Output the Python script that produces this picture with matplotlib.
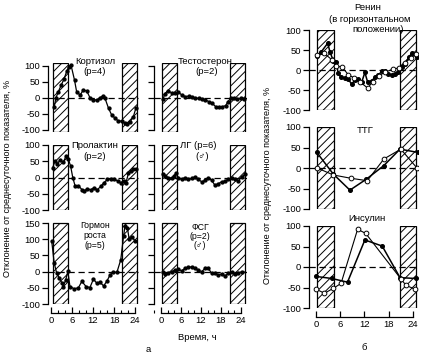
import matplotlib
matplotlib.use("Agg")
import matplotlib.pyplot as plt
from matplotlib.ticker import MultipleLocator

plt.rcParams['font.family'] = ['Liberation Sans', 'DejaVu Sans']
plt.rcParams['hatch.linewidth'] = 0.7

# ---------------- data (hours, % deviation) ----------------
cort_h = [0.9, 1.4, 2.1, 2.9, 3.7, 4.5, 5.1, 5.7, 6.7, 7.3, 8.3, 9.2, 10.2, 11.1, 12.1, 13.1, 14.0, 14.7,
          15.4, 16.4, 17.3, 18.3, 19.2, 20.2, 21.0, 21.6, 22.6, 23.5, 24.2]
cort_v = [-29, 0, 20, 40, 59, 84, 98, 103, 56, 20, 9, 25, 22, 1, -6, -6, 1, 6,
          -1, -32, -53, -63, -72, -72, -79, -82, -74, -58, -32]

prl_h = [0.5, 1.1, 1.8, 2.6, 3.5, 4.3, 4.9, 5.6, 6.2, 6.9, 7.8, 8.8, 9.4, 10.4, 11.3, 12.3, 13.2, 14.2,
         15.1, 16.1, 17.1, 18.0, 19.0, 19.9, 20.7, 21.4, 22.1, 22.9, 23.5, 24.3]
prl_v = [30, 50, 43, 53, 47, 66, 58, 35, 0, -27, -25, -37, -42, -34, -38, -31, -38, -27,
         -16, -6, -4, -4, -11, -16, -11, -16, 14, 20, 25, 27]

gh_h = [0.2, 0.9, 1.6, 2.4, 3.1, 3.5, 4.2, 4.8, 5.4, 6.6, 7.8, 8.8, 10.0, 11.1, 12.1, 13.0, 14.0, 15.0,
        15.9, 16.9, 17.8, 18.8, 19.9, 20.7, 21.1, 21.8, 22.3, 23.0, 24.0]
gh_v = [95, 27, -4, -20, -35, -46, -25, 1, -46, -53, -50, -30, -46, -49, -23, -35, -33, -44,
        -30, -9, -2, -2, 37, 110, 141, 135, 100, 108, 95]

test_h = [0.5, 1.2, 2.2, 3.2, 4.2, 5.2, 6.3, 7.3, 8.3, 9.3, 10.3, 11.3, 12.3, 13.3, 14.3, 15.4, 16.4, 17.4,
          18.4, 19.4, 20.1, 20.9, 21.9, 22.9, 23.9, 24.9]
test_v = [-4, 12, 22, 16, 15, 18, 9, 4, 6, 4, -1, -1, -4, -6, -11, -17, -27, -27,
          -27, -24, -11, -1, 1, -4, -1, -4]

lh_h = [0.5, 1.2, 2.2, 3.2, 3.9, 4.5, 5.2, 6.2, 7.2, 8.2, 9.2, 10.2, 11.2, 12.2, 13.2, 14.2, 15.2, 16.2,
        17.2, 18.2, 19.2, 20.2, 21.2, 22.2, 23.2, 24.2, 25.2]
lh_v = [12, 4, 0, -2, 4, 14, 0, -6, 0, -6, -3, 2, -6, -13, -9, 0, -9, -24,
        -19, -13, -11, -6, -3, -6, -11, 2, 10]

fsh_h = [0.5, 1.2, 2.2, 3.2, 4.2, 5.2, 6.2, 7.2, 8.2, 9.2, 10.2, 11.2, 12.2, 13.2, 14.2, 15.2, 16.2, 17.2,
         18.2, 19.2, 20.2, 21.2, 22.2, 23.2, 24.2]
fsh_v = [0, -7, -5, 0, 5, 7, 3, 10, 13, 15, 10, 5, 0, 10, 10, -5, -5, -10,
         -7, -13, -5, 0, -7, -5, 0]

ren_f_h = [0.2, 1.2, 2.9, 3.5, 4.3, 5.0, 5.5, 6.2, 7.2, 8.0, 8.8, 9.7, 10.5, 11.3, 12.1, 12.8, 13.8, 14.6,
           15.4, 16.4, 17.1, 17.9, 18.7, 19.6, 20.4, 21.2, 22.0, 23.0, 23.7, 24.9]
ren_f_v = [36, 44, 67, 44, 23, 19, -8, -18, -21, -23, -35, -25, -23, -31, -6, -31, -27, -18,
           -13, -2, -2, -10, -13, -10, -6, 7, 15, 32, 42, 32]
ren_o_h = [0.2, 2.0, 4.0, 5.0, 6.5, 8.0, 9.5, 11.0, 12.8, 14.0, 15.5, 17.0, 19.0, 20.5, 22.0, 23.5, 24.8]
ren_o_v = [38, 42, 25, 10, 7, -12, -20, -31, -45, -30, -15, -6, 2, 5, 18, 30, 40]

tsh_f_h = [0.2, 4.3, 8.4, 12.5, 16.8, 20.8, 25.2]
tsh_f_v = [38, -15, -54, -27, 6, 46, 38]
tsh_o_h = [0.3, 4.3, 8.6, 12.7, 16.8, 21.0, 25.0]
tsh_o_v = [0, -17, -25, -31, 22, 46, 0]

ins_f_h = [0.0, 3.9, 7.8, 12.1, 16.4, 20.8, 24.7]
ins_f_v = [-23, -28, -37, 66, 51, -26, -28]
ins_o_h = [0.0, 2.1, 4.3, 6.2, 10.3, 12.3, 21.1, 22.3, 24.5]
ins_o_v = [-54, -64, -52, -40, 92, 82, -30, -45, -54]

W, H = 425, 355
fig = plt.figure(figsize=(W / 100, H / 100), dpi=100)

TICK_FS = 6.8


def add_ax(x0, x1, y0, y1):
    return fig.add_axes([x0 / W, 1 - y1 / H, (x1 - x0) / W, (y1 - y0) / H])


def style(ax, xlim, ylim, yticks, bands, labels=True, bottom=False, minor=True):
    ax.set_xlim(*xlim)
    ax.set_ylim(*ylim)
    for s in ['top', 'right']:
        ax.spines[s].set_visible(False)
    ax.spines['left'].set_bounds(min(yticks), max(yticks))
    ax.spines['left'].set_linewidth(0.9)
    ax.set_yticks(yticks)
    if labels:
        ax.set_yticklabels([str(t) for t in yticks])
    else:
        ax.set_yticklabels([])
    ax.tick_params(axis='y', direction='out', length=4, width=0.9, labelsize=TICK_FS, pad=1.5)
    for b0, b1 in bands:
        ax.axvspan(b0, b1, facecolor='white', edgecolor='black', hatch='////', linewidth=0.9, zorder=1)
    ax.axhline(0, color='black', lw=0.9, dashes=(5, 3), zorder=2)
    if bottom:
        ax.spines['bottom'].set_position(('outward', 6.5))
        ax.spines['bottom'].set_bounds(0, 24)
        ax.spines['bottom'].set_linewidth(0.9)
        ax.set_xticks([0, 6, 12, 18, 24])
        if minor:
            ax.xaxis.set_minor_locator(MultipleLocator(2))
        ax.tick_params(axis='x', which='major', direction='in', length=4, width=0.9, labelsize=TICK_FS, pad=2)
        ax.tick_params(axis='x', which='minor', direction='in', length=2.5, width=0.8)
    else:
        ax.spines['bottom'].set_visible(False)
        ax.set_xticks([])


rows = [(63.4, 131.6, (-105, 108), [-100, -50, 0, 50, 100]),
        (145, 210, (-100, 100), [-100, -50, 0, 50, 100]),
        (222.5, 304, (-100, 152), [-100, -50, 0, 50, 100, 150])]

left_series = [(cort_h, cort_v), (prl_h, prl_v), (gh_h, gh_v)]
mid_series = [(test_h, test_v), (lh_h, lh_v), (fsh_h, fsh_v)]

mk = dict(color='black', lw=0.9, marker='o', markersize=2.1, zorder=3)

for i, (y0, y1, yl, yt) in enumerate(rows):
    ax = add_ax(48, 139, y0, y1)
    style(ax, (-0.86, 25.1), yl, yt, [(0.5, 4.8), (20.3, 24.6)], labels=True, bottom=(i == 2))
    ax.plot(*left_series[i], **mk)
    ax2 = add_ax(154, 247, y0, y1)
    style(ax2, (-2.1, 25.8), yl, yt, [(0.3, 4.8), (20.7, 25.2)], labels=False, bottom=(i == 2))
    ax2.plot(*mid_series[i], **mk)

right_rows = [(30, 110), (127, 209), (226, 308)]
right_series = [((ren_f_h, ren_f_v), (ren_o_h, ren_o_v)),
                ((tsh_f_h, tsh_f_v), (tsh_o_h, tsh_o_v)),
                ((ins_f_h, ins_f_v), (ins_o_h, ins_o_v))]
for i, (y0, y1) in enumerate(right_rows):
    ax = add_ax(309, 418, y0, y1)
    style(ax, (-1.73, 25.25), (-100, 100), [-100, -50, 0, 50, 100],
          [(0.25, 4.45), (20.8, 24.75)], labels=True, bottom=(i == 2), minor=False)
    (fh, fv), (oh, ov) = right_series[i]
    ax.plot(fh, fv, color='black', lw=1.1, marker='o', markersize=2.6, zorder=3)
    ax.plot(oh, ov, color='black', lw=0.8, marker='o', markersize=3.4,
            markerfacecolor='white', markeredgewidth=0.7, zorder=4)

fs = 6.8
fs_small = 6.3


def t(x, y, s, **kw):
    fig.text(x / W, 1 - y / H, s, ha='center', va='center', fontsize=kw.pop('fontsize', fs), **kw)


t(95, 61, 'Кортизол')
t(95, 71, '(р=4)')
t(205, 61, 'Тестостерон')
t(207, 71, '(р=2)')
t(95, 146, 'Пролактин')
t(95, 156, '(р=2)')
t(198, 146, 'ЛГ (р=6)')
t(202, 156, '(♂)')
t(95, 226, 'Гормон', fontsize=fs_small)
t(95, 235.5, 'роста', fontsize=fs_small)
t(95, 245, '(р=5)', fontsize=fs_small)
t(200, 227.5, 'ФСГ', fontsize=fs_small)
t(200, 236.5, '(р=2)', fontsize=fs_small)
t(200, 245.5, '(♂)', fontsize=fs_small)
t(368, 7, 'Ренин')
t(370, 19, '(в горизонтальном')
t(378, 29, 'положении)')
t(365, 131, 'ТТГ')
t(367, 219, 'Инсулин')
t(197, 337, 'Время, ч')
t(148, 350, 'а')
t(364, 348, 'б')
t(8, 178, 'Отклонение от среднесуточного показателя, %', rotation=90, fontsize=6.5)
t(268, 185, 'Отклонение от среднесуточного показателя, %', rotation=90, fontsize=6.5)

fig.savefig('out.png', dpi=100)
